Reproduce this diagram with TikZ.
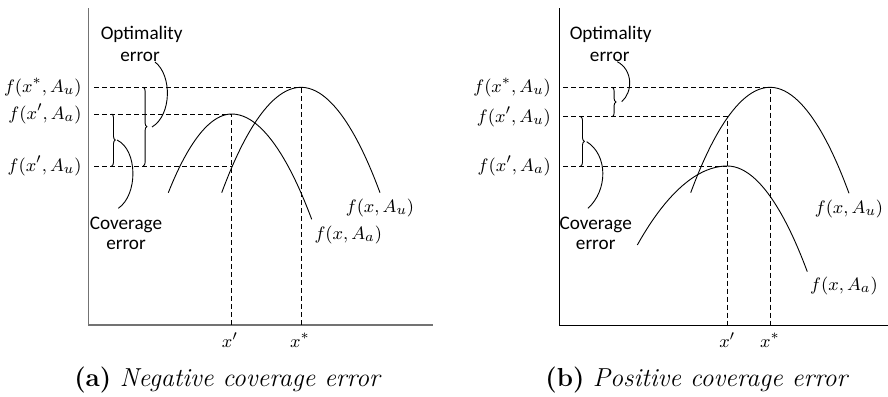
\documentclass[tikz,border=0pt]{standalone}
\usepackage{fontspec}
\newfontfamily\calloutfont{Carlito}
\usetikzlibrary{decorations.pathreplacing}
\begin{document}
\begin{tikzpicture}[x=0.5pt,y=-0.5pt,
  axisline/.style={line width=0.5pt},
  guide/.style={dash pattern=on 2.5pt off 1.5pt,line width=0.45pt},
  curveline/.style={line width=0.45pt},
  lbl/.style={inner sep=0pt,font=\fontsize{9.4}{11}\selectfont},
  sans/.style={font=\calloutfont\fontsize{9.6}{11}\selectfont,inner sep=0pt,align=center},
  bracepath/.style={decorate,decoration={brace,amplitude=1.8pt},line width=0.45pt},
  capt/.style={inner sep=0pt,font=\fontsize{13}{15}\selectfont}]
\useasboundingbox (0,0) rectangle (888,396);

% ================= panel (a) =================
\coordinate (aTop) at (88.7,8);
\coordinate (aO) at (88.7,325);
\coordinate (aEnd) at (433,325);
\draw[axisline,line width=0.6pt,black!55] (aTop) -- (aO) -- (aEnd);

\node[lbl,anchor=east] (aL1) at (82,87.3) {$f(x^*,A_u)$};
\node[lbl,anchor=east] (aL2) at (82,114) {$f(x',A_a)$};
\node[lbl,anchor=east] (aL3) at (82,166) {$f(x',A_u)$};

\coordinate (aPu) at (301,87.3);
\coordinate (aPa) at (231.7,114);
\draw[guide] (94,87.3) -- (aPu) -- (301,325);
\draw[guide] (94,114) -- (aPa) -- (231.7,325);
\draw[guide] (94,166) -- (231.7,166);

\draw[curveline] (221.7,192.7) parabola bend (aPu) (380,192.7);
\draw[curveline] (168.3,192.7) parabola bend (aPa) (311.7,219.3);

\node[lbl] (aFu) at (380,208.3) {$f(x,A_u)$};
\node[lbl] (aFa) at (348.3,235) {$f(x,A_a)$};
\node[lbl] (aXp) at (230,340) {$x'$};
\node[lbl] (aXs) at (300,340) {$x^*$};

\node[sans] (aOpt) at (141.7,34) {Optimality};
\node[sans] (aOptE) at (140,57) {error};
\node[sans] (aCov) at (126,225) {Coverage};
\node[sans] (aCovE) at (126,245) {error};

\draw[bracepath] (143.3,87.3) -- (143.3,166);
\draw[bracepath] (111.7,114) -- (111.7,166);
\coordinate (aOptTip) at (152,127);
\coordinate (aOptEnd) at (155,62);
\coordinate (aCovTip) at (117,140);
\coordinate (aCovEnd) at (118.3,208.3);
\draw[curveline] (aOptTip) .. controls (172,115) and (172,75) .. (aOptEnd);
\draw[curveline] (aCovTip) .. controls (138,150) and (138,195) .. (aCovEnd);

\node[capt] (aCap) at (228,380) {\textbf{(a)}\ \textit{Negative coverage error}};

% ================= panel (b) =================
\coordinate (bTop) at (559,8);
\coordinate (bO) at (559,325);
\coordinate (bEnd) at (888,325);
\draw[axisline] (bTop) -- (bO) -- (bEnd);

\node[lbl,anchor=east] (bL1) at (551.3,87.3) {$f(x^*,A_u)$};
\node[lbl,anchor=east] (bL2) at (551.3,116.7) {$f(x',A_u)$};
\node[lbl,anchor=east] (bL3) at (551.3,166) {$f(x',A_a)$};

\coordinate (bPu) at (770,87.3);
\coordinate (bPa) at (727.3,166);
\draw[guide] (563.3,87.3) -- (bPu) -- (770,325);
\draw[guide] (563.3,116.7) -- (727.3,116.7) -- (727.3,325);
\draw[guide] (563.3,166) -- (bPa);

\draw[curveline] (690.7,192.7) parabola bend (bPu) (849,193.3);
\draw[curveline] (637.3,245) parabola bend (bPa) (807.3,271.7);

\node[lbl] (bFu) at (849,209.3) {$f(x,A_u)$};
\node[lbl] (bFa) at (844,286) {$f(x,A_a)$};
\node[lbl] (bXp) at (727.3,340) {$x'$};
\node[lbl] (bXs) at (770,340) {$x^*$};

\node[sans] (bOpt) at (610.7,34) {Optimality};
\node[sans] (bOptE) at (609.7,57) {error};
\node[sans] (bCov) at (595.7,225) {Coverage};
\node[sans] (bCovE) at (595.7,245) {error};

\draw[bracepath] (612.3,87.3) -- (612.3,116.7);
\draw[bracepath] (580.7,116.7) -- (580.7,166);
\coordinate (bOptTip) at (621.7,101.7);
\coordinate (bOptEnd) at (617.3,61.7);
\coordinate (bCovTip) at (586.7,141.7);
\coordinate (bCovEnd) at (588,208.3);
\draw[curveline] (bOptTip) .. controls (633,92) and (633,70) .. (bOptEnd);
\draw[curveline] (bCovTip) .. controls (608,155) and (608,190) .. (bCovEnd);

\node[capt] (bCap) at (697.3,380) {\textbf{(b)}\ \textit{Positive coverage error}};
\end{tikzpicture}
\end{document}
